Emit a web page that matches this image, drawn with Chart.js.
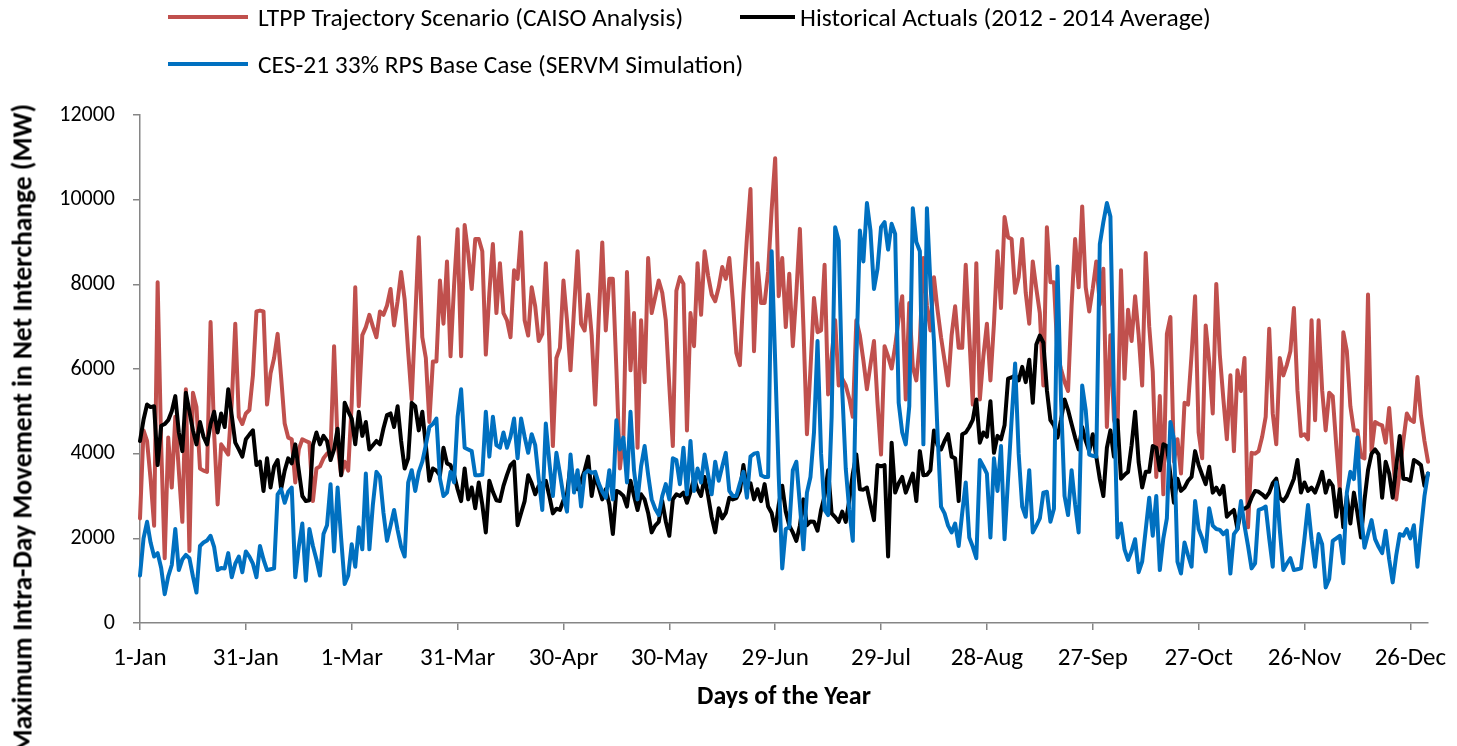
<!DOCTYPE html>
<html>
<head>
<meta charset="utf-8">
<title>Maximum Intra-Day Movement in Net Interchange</title>
<script src="https://cdn.jsdelivr.net/npm/chart.js@4.4.1/dist/chart.umd.min.js"></script>
<style>
  html, body { margin: 0; padding: 0; background: #fff; overflow: hidden; }
  #wrap { position: relative; width: 1457px; height: 746px; font-family: Carlito, Lato, "Open Sans", sans-serif; color: #000; }
  #chart { position: absolute; left: 0; top: 0; }
  .legend-item { position: absolute; left: 168px; display: flex; align-items: center; font-size: 25.5px; white-space: nowrap; height: 30px; }
  .legend-item .swatch { width: 80px; height: 4px; margin-right: 10px; }
  #ytitle { position: absolute; left: 22px; top: 104px; transform-origin: 0 0; transform: rotate(-90deg) translate(-100%, -50%); font-weight: bold; font-size: 27.5px; white-space: nowrap; }
</style>
</head>
<body>
<div id="wrap">
  <canvas id="chart" width="1457" height="746"></canvas>
  <div class="legend-item" style="top:2px;"><span class="swatch" style="background:#C0504D"></span>LTPP Trajectory Scenario (CAISO Analysis)</div>
  <div class="legend-item" style="top:2px; left:740px;"><span class="swatch" style="background:#000000; width:55px; margin-right:5px"></span>Historical Actuals (2012 - 2014 Average)</div>
  <div class="legend-item" style="top:49px;"><span class="swatch" style="background:#0070C0"></span>CES-21 33% RPS Base Case (SERVM Simulation)</div>
  <div id="ytitle">Maximum Intra-Day Movement in Net Interchange (MW)</div>
</div>
<script>
// tick labels shown on the x axis (every 30th day, 2012 calendar)
const tickLabels = ['1-Jan', '31-Jan', '1-Mar', '31-Mar', '30-Apr', '30-May', '29-Jun',
                    '29-Jul', '28-Aug', '27-Sep', '27-Oct', '26-Nov', '26-Dec'];

// LTPP Trajectory Scenario (CAISO Analysis), MW, one value per day
const ltpp = [
  2470, 4550, 4300, 3400, 2300, 8050, 4200, 1530, 4380, 3200,
  4870, 3600, 2390, 5520, 1700, 5440, 5100, 3650, 3600, 3570,
  7110, 4500, 2800, 4220, 4100, 3980, 5200, 7070, 4870, 4700,
  4950, 5030, 5850, 7360, 7380, 7360, 5160, 5900, 6260, 6830,
  5800, 4710, 4380, 4340, 3320, 4100, 4340, 4300, 4260, 2880,
  3650, 3700, 3890, 4000, 4060, 6540, 4220, 3490, 3810, 3600,
  5200, 7930, 5120, 6800, 6990, 7280, 7000, 6750, 7360, 7280,
  7500, 7890, 7030, 7600, 8290, 7640, 6400, 5280, 7200, 9110,
  6750, 6260, 4750, 6180, 6180, 8090, 7070, 8540, 6300, 7970,
  9300, 6300, 9400, 8740, 7890, 9070, 9070, 8780, 6340, 7800,
  8950, 7320, 8500, 7320, 7150, 6750, 8330, 8130, 9230, 7150,
  6790, 7930, 7480, 6660, 6830, 8500, 6660, 4180, 6260, 6500,
  8090, 7150, 5970, 7400, 8780, 7070, 6910, 7760, 6800, 5160,
  7200, 8990, 6910, 8130, 8130, 6000, 3650, 4420, 8290, 5970,
  7320, 4140, 7150, 5690, 8620, 7320, 7700, 8090, 7800, 7150,
  5600, 4180, 7850, 8170, 8010, 4550, 7320, 6540, 8500, 7280,
  8780, 8200, 7760, 7600, 7930, 8410, 8130, 8620, 7600, 6380,
  6090, 7800, 9110, 10250, 6420, 8500, 7560, 7560, 8300, 9760,
  10980, 7720, 8620, 6990, 8250, 6540, 7800, 9310, 7000, 4460,
  6000, 7680, 6870, 6910, 8460, 5400, 6300, 7150, 5610, 5770,
  5610, 5300, 4870, 7150, 6790, 6200, 5520, 6100, 6660, 5200,
  3980, 6540, 6300, 6010, 6540, 7200, 7720, 5280, 7560, 6050,
  5730, 6660, 8620, 7500, 6910, 8170, 7400, 6750, 6200, 5610,
  6800, 7480, 6500, 6500, 8460, 6800, 5160, 8500, 5280, 6300,
  7070, 5730, 7070, 8780, 7440, 9590, 9110, 9070, 7800, 8170,
  9070, 7800, 7070, 8540, 7900, 7320, 5610, 9350, 8050, 8050,
  6340, 6000, 5700, 5480, 7500, 9070, 7930, 9840, 7930, 7360,
  7900, 8540, 7520, 8370, 4630, 6800, 4800, 4500, 8330, 5770,
  7400, 6660, 7720, 6800, 5610, 8740, 7000, 5930, 3450, 5360,
  3040, 6830, 7230, 3810, 4340, 3530, 5200, 5160, 6340, 7720,
  4500, 3890, 7030, 6180, 4950, 8010, 6340, 5300, 4340, 5850,
  4060, 5970, 5480, 6260, 2260, 4020, 4000, 4060, 4400, 4870,
  6950, 4950, 4220, 6260, 5850, 6100, 6420, 7440, 5500, 4420,
  4460, 4340, 7150, 4790, 7150, 5500, 4550, 5440, 5360, 4200,
  3160, 6870, 6420, 5120, 4550, 4550, 3930, 3890, 7760, 4060,
  4750, 4700, 4670, 4260, 5080, 4000, 2920, 3600, 4300, 4950,
  4800, 4750, 5810, 4900, 4300, 3810
];

// Historical Actuals (2012 - 2014 Average), MW
const historical = [
  4300, 4800, 5160, 5100, 5120, 3730, 4660, 4700, 4790, 5000,
  5360, 4500, 4060, 5440, 5000, 4550, 4220, 4750, 4400, 4220,
  4700, 4990, 4500, 4950, 4630, 5520, 4900, 4260, 4100, 3930,
  4340, 4450, 4550, 3730, 3810, 3120, 3890, 3200, 3700, 3850,
  3160, 3600, 3890, 3770, 4220, 3600, 3000, 2880, 2900, 4200,
  4500, 4220, 4420, 4300, 3850, 4100, 4590, 3490, 5200, 5000,
  4830, 4220, 4990, 4420, 4750, 4100, 4200, 4300, 4220, 4600,
  4910, 4950, 4630, 5120, 4300, 3650, 3890, 5200, 5120, 4550,
  4990, 4200, 3360, 3650, 3600, 3490, 4140, 3770, 3730, 3500,
  3160, 2880, 3650, 2920, 3200, 2710, 3320, 2800, 2140, 3360,
  3100, 2900, 2880, 3240, 3500, 3730, 3810, 2310, 2600, 2880,
  3490, 3300, 3040, 3240, 3300, 3360, 3000, 2590, 2700, 2670,
  2900, 3040, 3730, 3300, 3160, 3360, 3600, 3930, 3000, 3490,
  3200, 2920, 3160, 2800, 2100, 3120, 3080, 3000, 2750, 3360,
  3000, 2670, 3040, 2920, 2600, 2140, 2300, 2390, 2880, 2400,
  2060, 2920, 3040, 3000, 3080, 2840, 3100, 3410, 3160, 3000,
  3450, 3000, 2500, 2140, 2710, 2470, 2600, 2960, 2920, 2950,
  3120, 3730, 3160, 3300, 2920, 3160, 2880, 3280, 2750, 2600,
  2180, 2790, 3240, 2630, 2300, 2140, 1940, 2300, 2920, 2310,
  2400, 2390, 2180, 2670, 3000, 3610, 2590, 2500, 2390, 2630,
  2390, 2900, 3530, 3980, 3160, 3150, 3200, 2800, 2430, 3730,
  3700, 3730, 1570, 4260, 3080, 3300, 3450, 3080, 3300, 3530,
  2880, 4060, 3490, 3500, 3610, 4550, 4200, 4100, 4300, 4460,
  3930, 3890, 2880, 4460, 4500, 4630, 4800, 5280, 4260, 4500,
  4400, 5240, 4020, 4420, 4340, 4670, 5770, 5800, 5850, 5730,
  6050, 5690, 6220, 5200, 6580, 6790, 6620, 5500, 4790, 4670,
  4380, 4800, 5280, 5030, 4700, 4380, 4100, 4630, 4300, 4060,
  4460, 3930, 3400, 3000, 4140, 4550, 3930, 4790, 3410, 3500,
  3570, 4200, 4990, 3800, 3200, 3570, 3570, 4180, 4140, 3610,
  4220, 4180, 3500, 2840, 3410, 3120, 3200, 3360, 3450, 4060,
  3730, 3500, 3280, 3690, 3080, 3200, 3040, 3240, 2510, 2600,
  2670, 2220, 2670, 2700, 2750, 2960, 3120, 3100, 3040, 2960,
  3080, 3300, 3410, 2960, 2880, 3000, 3200, 3410, 3850, 3080,
  3320, 3120, 3200, 3080, 3300, 3570, 3080, 3360, 3240, 2510,
  3160, 2260, 3000, 2350, 3080, 2600, 2020, 2900, 3610, 4000,
  4100, 3980, 2960, 3810, 3530, 2960, 3700, 4420, 3410, 3400,
  3360, 3850, 3800, 3730, 3240, 3530
];

// CES-21 33% RPS Base Case (SERVM Simulation), MW
const ces21 = [
  1120, 2000, 2390, 1900, 1570, 1650, 1300, 680, 1100, 1370,
  2220, 1250, 1500, 1610, 1530, 1100, 720, 1820, 1900, 1950,
  2060, 1800, 1250, 1300, 1290, 1650, 1080, 1400, 1570, 1200,
  1690, 1570, 1400, 1080, 1820, 1500, 1250, 1270, 1290, 3040,
  3160, 2840, 3100, 3200, 1080, 1800, 2350, 1000, 2220, 1820,
  1500, 1120, 2100, 2310, 3280, 1690, 3200, 2000, 920, 1120,
  1860, 1330, 2260, 1740, 3530, 1740, 2800, 3570, 3450, 2600,
  1940, 2300, 2670, 2200, 1800, 1570, 3320, 3610, 3120, 3570,
  3810, 4200, 4630, 4700, 4830, 3410, 3000, 3080, 3570, 3320,
  4870, 5520, 4140, 4100, 4060, 3490, 3490, 3500, 4990, 3930,
  4870, 4200, 4140, 4500, 4140, 4400, 4830, 3890, 4830, 4400,
  4020, 4460, 4200, 3400, 2670, 4710, 3800, 3000, 4020, 3530,
  3000, 2630, 3980, 3080, 3610, 2750, 3530, 3600, 3550, 3570,
  3300, 3100, 2960, 3610, 2920, 4790, 4100, 4380, 3320, 4990,
  3600, 2920, 3700, 4180, 3500, 2920, 2700, 2550, 3000, 3280,
  2920, 3890, 3850, 3280, 4140, 3040, 4300, 3120, 3650, 3320,
  3980, 3500, 3040, 3810, 3360, 3700, 4020, 3120, 3000, 3000,
  3300, 3570, 2960, 3930, 4000, 4020, 3490, 3450, 3450, 8780,
  6180, 3500, 1290, 2220, 2260, 3610, 3810, 2800, 1740, 3080,
  3450, 4500, 6660, 4000, 2670, 2550, 4870, 9350, 9030, 5500,
  3650, 2670, 1940, 6180, 9270, 8540, 9920, 9270, 7890, 8370,
  9350, 9470, 8820, 9430, 9190, 5200, 4500, 4220, 5120, 9800,
  9000, 8780, 4220, 9800, 8000, 6660, 4500, 2750, 2590, 2300,
  2140, 2350, 1820, 2600, 3320, 2020, 1800, 1530, 3850, 3700,
  3530, 2020, 3890, 3120, 4180, 1980, 3400, 4800, 6130, 4000,
  2750, 2510, 3610, 2140, 2300, 2470, 3080, 3100, 2390, 2700,
  8420, 5280, 3000, 2550, 3610, 2800, 2140, 5610, 5030, 3980,
  3950, 3930, 8950, 9470, 9920, 9600, 5360, 2020, 2350, 1740,
  1490, 1700, 1980, 1200, 1450, 2200, 2960, 2060, 3000, 1250,
  2000, 2470, 4750, 4340, 1450, 1170, 1900, 1600, 1330, 2880,
  2220, 2000, 1690, 2710, 2300, 2220, 2200, 2100, 2180, 1170,
  2100, 2220, 2880, 2300, 1820, 1290, 1410, 2670, 2700, 2750,
  2000, 1330, 3320, 2200, 1250, 1400, 1530, 1250, 1270, 1290,
  2000, 2790, 1980, 1330, 2100, 1860, 840, 1040, 1940, 2000,
  2060, 1410, 3080, 3570, 3400, 4380, 2590, 1780, 2100, 2430,
  1980, 1800, 1650, 2180, 1500, 960, 1600, 2100, 2060, 2220,
  2000, 2310, 1330, 2200, 3000, 3530
];

// one category per day of 2012 (leap year)
const months = ['Jan', 'Feb', 'Mar', 'Apr', 'May', 'Jun', 'Jul', 'Aug', 'Sep', 'Oct', 'Nov', 'Dec'];
const days = [];
for (let i = 0; i < ltpp.length; i++) {
  const d = new Date(2012, 0, 1 + i);
  days.push(d.getDate() + '-' + months[d.getMonth()]);
}

const axisColor = '#868686';
const fontFamily = 'Carlito, Lato, "Open Sans", sans-serif';

new Chart(document.getElementById('chart'), {
  type: 'line',
  data: {
    labels: days,
    datasets: [
      { label: 'CES-21 33% RPS Base Case (SERVM Simulation)', data: ces21, borderColor: '#0070C0' },
      { label: 'Historical Actuals (2012 - 2014 Average)', data: historical, borderColor: '#000000' },
      { label: 'LTPP Trajectory Scenario (CAISO Analysis)', data: ltpp, borderColor: '#C0504D' }
    ]
  },
  options: {
    responsive: false,
    animation: false,
    devicePixelRatio: 1,
    layout: { padding: { top: 115, right: 29, left: 0, bottom: 0 } },
    plugins: { legend: { display: false }, tooltip: { enabled: false } },
    elements: {
      point: { radius: 0 },
      line: { tension: 0, borderWidth: 4, borderJoinStyle: 'round', borderCapStyle: 'round', fill: false }
    },
    scales: {
      x: {
        grid: { drawOnChartArea: false, drawTicks: true, tickLength: 7, color: axisColor, lineWidth: 1.5 },
        border: { color: axisColor, width: 1.5 },
        ticks: {
          autoSkip: false, maxRotation: 0, minRotation: 0, padding: 14, color: '#000',
          font: { family: fontFamily, size: 25 },
          callback: (v, i) => (i % 30 === 0 ? tickLabels[i / 30] : null)
        },
        title: {
          display: true, text: 'Days of the Year', color: '#000',
          font: { family: fontFamily, size: 26, weight: 'bold' },
          padding: { top: 0, bottom: 33 }
        },
        afterFit: s => { s.height = 123; s.paddingLeft = 0; s.paddingRight = 0; }
      },
      y: {
        min: 0, max: 12000,
        grid: { drawOnChartArea: false, drawTicks: true, tickLength: 7, color: axisColor, lineWidth: 1.5 },
        border: { color: axisColor, width: 1.5 },
        ticks: {
          stepSize: 2000, padding: 18, color: '#000',
          font: { family: fontFamily, size: 22 },
          callback: v => String(v)
        },
        afterFit: s => { s.width = 140; s.paddingTop = 0; s.paddingBottom = 0; }
      }
    }
  }
});
</script>
</body>
</html>
